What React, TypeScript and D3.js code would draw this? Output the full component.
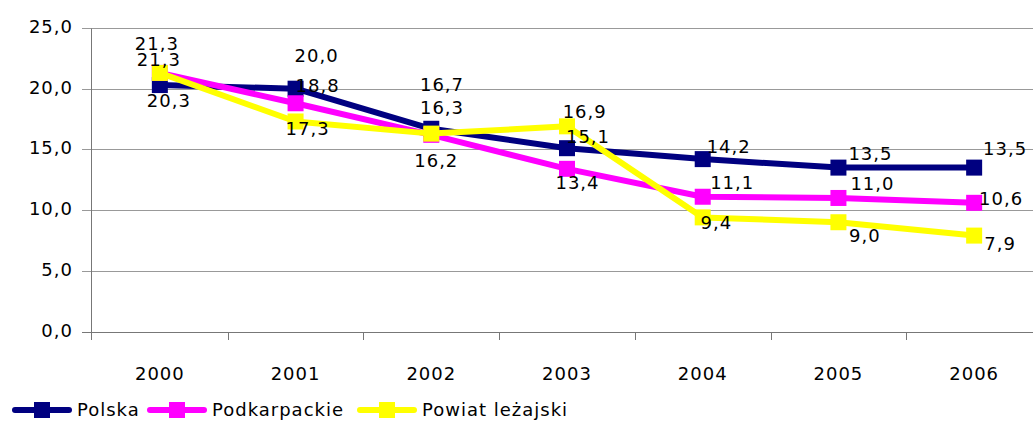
import React from 'react';
import * as d3 from 'd3';

const years = ['2000', '2001', '2002', '2003', '2004', '2005', '2006'];
const polska = [20.3, 20.0, 16.7, 15.1, 14.2, 13.5, 13.5];
const podkarpackie = [21.3, 18.8, 16.2, 13.4, 11.1, 11.0, 10.6];
const powiat = [21.3, 17.3, 16.3, 16.9, 9.4, 9.0, 7.9];
const yTicks = [0, 5, 10, 15, 20, 25];
const seriesNames = ['Polska', 'Podkarpackie', 'Powiat leżajski'];

// layout: label offsets (dx to text center, dy to baseline) relative to point
const labelOffsets: number[][][] = [
  [[9, 22], [21, -27], [10.7, -38], [21, -5.5], [26, -5.8], [32, -7.6], [31, -12.6]],
  [[-1, -7], [22, -11], [5, 32], [10.5, 20.5], [29.5, -7.4], [34, -8], [27, 2.2]],
  [[-3, -23], [12, 13.5], [10.7, -19.3], [17.7, -8.6], [13.7, 12], [26.5, 19.5], [26, 14.4]],
];
const colors = ['#000080', '#FF00FF', '#FFFF00'];
const legendX = [12, 147, 357];

const W = 1033;
const H = 421;
const FONT = '"DejaVu Sans", Verdana, sans-serif';
const FS = 18;
const LS = 1;

export default function App() {
  const x = d3.scaleBand<string>().domain(years).range([92, 1042]).padding(0);
  const y = d3.scaleLinear().domain([0, 25]).range([331.5, 28]);
  const cx = (yr: string) => (x(yr) as number) + x.bandwidth() / 2;
  const fmt = (v: number) => d3.format('.1f')(v).replace('.', ',');
  const data = [polska, podkarpackie, powiat];
  const line = d3
    .line<number>()
    .x((_, i) => cx(years[i]))
    .y((v) => y(v));
  const crisp = (v: number) => Math.round(v) + 0.5;
  const ms = 16;

  return (
    <svg
      width={W}
      height={H}
      style={{ position: 'absolute', left: 0, top: 0, background: '#fff' }}
      fontFamily={FONT}
      fontSize={FS}
      letterSpacing={LS}
    >
      <rect x={0} y={0} width={W} height={H} fill="#fff" />
      {/* gridlines */}
      {yTicks.map((t) => (
        <g key={t}>
          <line
            x1={82}
            x2={W}
            y1={crisp(y(t))}
            y2={crisp(y(t))}
            stroke={t === 0 ? '#777' : '#999'}
            strokeWidth={1}
          />
          <text x={73} y={y(t) + 5} textAnchor="end" fill="#000">
            {fmt(t)}
          </text>
        </g>
      ))}
      {/* y axis */}
      <line x1={crisp(92) - 1} x2={crisp(92) - 1} y1={crisp(y(25))} y2={340} stroke="#777" />
      {/* x ticks */}
      {years.map((yr, i) =>
        i === 0 ? null : (
          <line
            key={yr}
            x1={crisp(x(yr) as number)}
            x2={crisp(x(yr) as number)}
            y1={crisp(y(0))}
            y2={340}
            stroke="#777"
          />
        )
      )}
      {years.map((yr) => (
        <text key={yr} x={cx(yr)} y={380} textAnchor="middle" fill="#000">
          {yr}
        </text>
      ))}
      {/* series */}
      {data.map((s, k) => (
        <g key={k}>
          <path d={line(s) as string} fill="none" stroke={colors[k]} strokeWidth={6} strokeLinejoin="round" />
          {s.map((v, i) => (
            <rect
              key={i}
              x={cx(years[i]) - ms / 2}
              y={y(v) - ms / 2}
              width={ms}
              height={ms}
              fill={colors[k]}
            />
          ))}
        </g>
      ))}
      {/* labels */}
      {data.map((s, k) => (
        <g key={'l' + k}>
          {s.map((v, i) => (
            <text
              key={i}
              x={cx(years[i]) + labelOffsets[k][i][0]}
              y={y(v) + labelOffsets[k][i][1]}
              textAnchor="middle"
              fill="#000"
            >
              {fmt(v)}
            </text>
          ))}
        </g>
      ))}
      {/* legend */}
      {seriesNames.map((name, k) => (
        <g key={name} transform={`translate(${legendX[k]},410)`}>
          <line x1={3} x2={57} y1={0} y2={0} stroke={colors[k]} strokeWidth={6} strokeLinecap="round" />
          <rect x={30 - 8} y={-8} width={16} height={16} fill={colors[k]} />
          <text x={65} y={6} fill="#000">
            {name}
          </text>
        </g>
      ))}
    </svg>
  );
}
